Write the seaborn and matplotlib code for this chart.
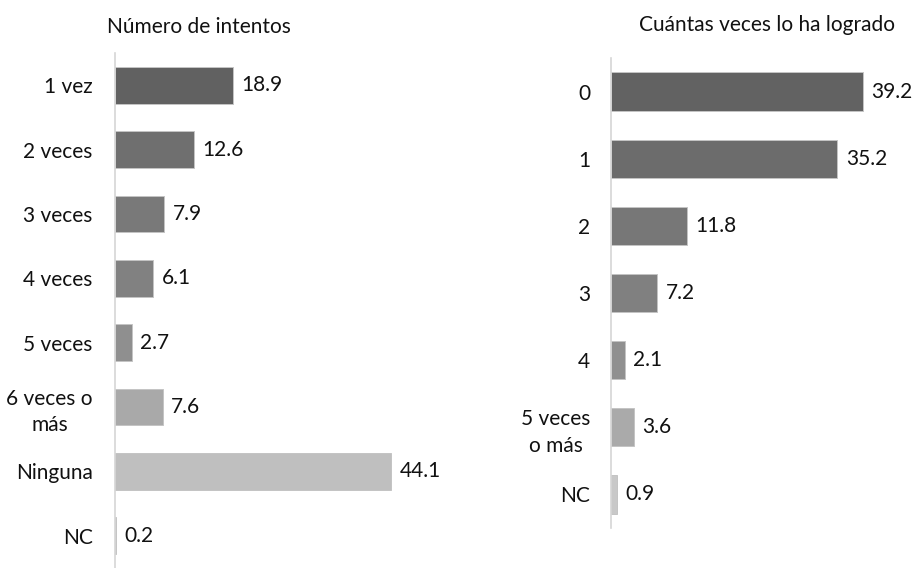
import pandas as pd
import seaborn as sns
import matplotlib.pyplot as plt

intentos_cats = ["1 vez", "2 veces", "3 veces", "4 veces", "5 veces", "6 veces o\nmás", "Ninguna", "NC"]
intentos_vals = [18.9, 12.6, 7.9, 6.1, 2.7, 7.6, 44.1, 0.2]
intentos_colors = ["#616161", "#6f6f6f", "#797979", "#818181", "#8f8f8f", "#a9a9a9", "#bfbfbf", "#e3e3e3"]

logrado_cats = ["0", "1", "2", "3", "4", "5 veces\no más", "NC"]
logrado_vals = [39.2, 35.2, 11.8, 7.2, 2.1, 3.6, 0.9]
logrado_colors = ["#626262", "#6c6c6c", "#777777", "#808080", "#909090", "#aaaaaa", "#c8c8c8"]

sns.set_theme(style="white")
plt.rcParams['font.family'] = ['Lato', 'DejaVu Sans']
W, H = 916, 568
FS = 15


def panel(ax, cats, vals, colors, xmax, pad):
    df = pd.DataFrame({"cat": cats, "val": vals})
    sns.barplot(data=df, x="val", y="cat", hue="cat", palette=colors, legend=False,
                width=0.57, edgecolor="#c4c4c4", linewidth=0.7, ax=ax, orient="h")
    for c in ax.containers:
        ax.bar_label(c, labels=[f"{v:.1f}" for v in c.datavalues], padding=6,
                     fontsize=FS, color="#111111", clip_on=False)
    ax.set_xlim(0, xmax)
    ax.set_ylim(len(cats) - 0.5, -0.5)
    ax.set_xlabel("")
    ax.set_ylabel("")
    ax.set_xticks([])
    ax.tick_params(axis="y", length=0, pad=pad, labelsize=FS, labelcolor="#111111")
    for lab in ax.get_yticklabels():
        lab.set_multialignment("center")
        lab.set_linespacing(1.4)
    sns.despine(ax=ax, top=True, right=True, bottom=True)
    ax.spines["left"].set_color("#d6d6d6")
    ax.spines["left"].set_linewidth(1.2)


fig = plt.figure(figsize=(W / 100, H / 100), dpi=100)

ax1 = fig.add_axes([115 / W, 0, 50 * 6.26 / W, (H - 53) / H])
panel(ax1, intentos_cats, intentos_vals, intentos_colors, 50, 16)

ax2 = fig.add_axes([611 / W, (H - 528) / H, 45 * 6.43 / W, 470 / H])
panel(ax2, logrado_cats, logrado_vals, logrado_colors, 45, 15)

fig.text(199 / W, 1 - 27 / H, "Número de intentos", ha="center", va="center",
         fontsize=FS, color="#111111")
fig.text(767 / W, 1 - 25 / H, "Cuántas veces lo ha logrado", ha="center", va="center",
         fontsize=FS, color="#111111")

fig.savefig("out.png", dpi=100)
